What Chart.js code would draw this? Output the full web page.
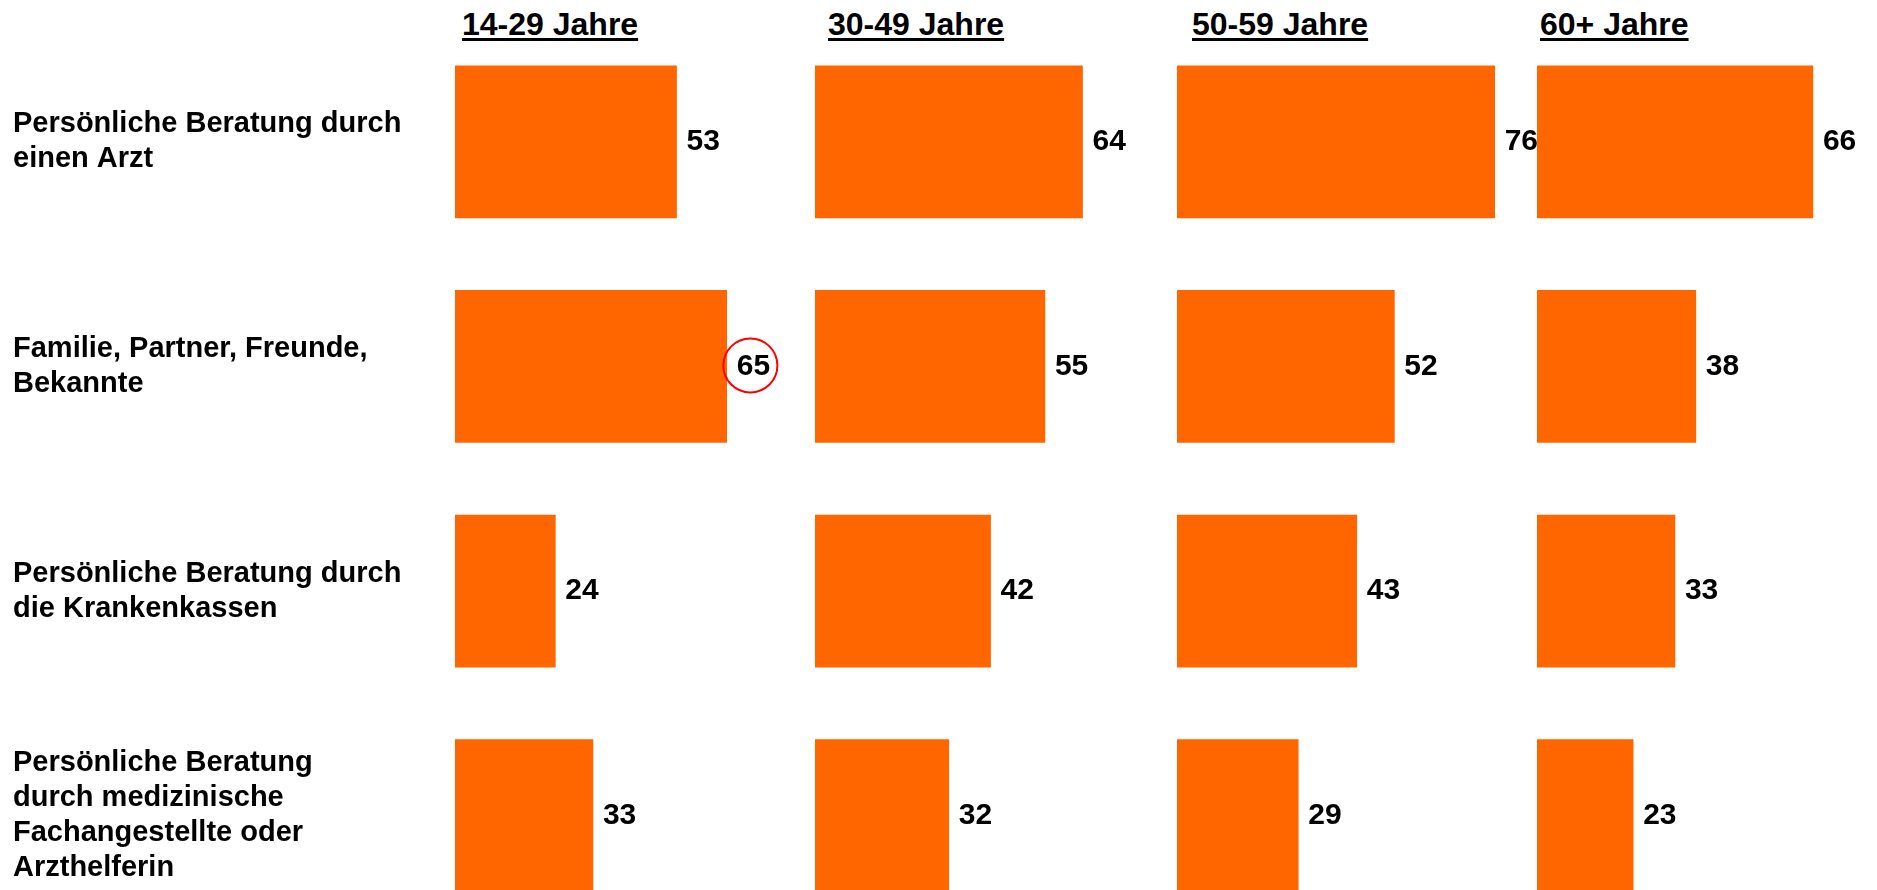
<!DOCTYPE html>
<html lang="de">
<head>
<meta charset="utf-8">
<title>Informationsquellen nach Alter</title>
<script src="https://cdn.jsdelivr.net/npm/chart.js@4.4.1/dist/chart.umd.min.js"></script>
<style>
  html, body { margin: 0; padding: 0; background: #fff; overflow: hidden; }
  body { width: 1877px; height: 890px; position: relative; }
  .panel { position: absolute; top: 0; }
  .head {
    position: absolute; top: 8px; margin: 0;
    font: bold 32px "Liberation Sans", Arial, sans-serif; line-height: 32px;
    color: #000; text-decoration: underline; text-decoration-thickness: 3px;
    text-underline-offset: 3px; white-space: nowrap;
  }
</style>
</head>
<body>
<div class="head" id="h0" style="left:462px"></div>
<div class="head" id="h1" style="left:828px"></div>
<div class="head" id="h2" style="left:1192px"></div>
<div class="head" id="h3" style="left:1540px"></div>

<div class="panel" style="left:0px"><canvas id="c0" width="933" height="928"></canvas></div>
<div class="panel" style="left:815px"><canvas id="c1" width="478" height="928"></canvas></div>
<div class="panel" style="left:1177px"><canvas id="c2" width="478" height="928"></canvas></div>
<div class="panel" style="left:1537px"><canvas id="c3" width="478" height="928"></canvas></div>

<script>
// Werte in Prozent, je Altersgruppe
const groups = ['14-29 Jahre', '30-49 Jahre', '50-59 Jahre', '60+ Jahre'];

const categories = [
  ['Persönliche Beratung durch', 'einen Arzt'],
  ['Familie, Partner, Freunde,', 'Bekannte'],
  ['Persönliche Beratung durch', 'die Krankenkassen'],
  ['Persönliche Beratung', 'durch medizinische', 'Fachangestellte oder', 'Arzthelferin']
];

const age14to29 = [53, 65, 24, 33];
const age30to49 = [64, 55, 42, 32];
const age50to59 = [76, 52, 43, 29];
const age60plus = [66, 38, 33, 23];

// hervorgehobener Wert (Gruppe, Zeile)
const circledGroup = 0;
const circledRow = 1;

const seriesList = [age14to29, age30to49, age50to59, age60plus];

Chart.defaults.font.family = '"Liberation Sans", Arial, sans-serif';
Chart.defaults.color = '#000';

const ORANGE = '#ff6600';

const valueLabels = {
  id: 'valueLabels',
  afterDatasetsDraw(chart, args, opts) {
    const ctx = chart.ctx;
    const meta = chart.getDatasetMeta(0);
    const values = chart.data.datasets[0].data;
    ctx.save();
    ctx.font = 'bold 30px "Liberation Sans", Arial, sans-serif';
    ctx.fillStyle = '#000';
    ctx.textBaseline = 'middle';
    ctx.textAlign = 'left';
    meta.data.forEach((bar, i) => {
      const txt = String(values[i]);
      const x = bar.x + 10;
      ctx.fillText(txt, x, bar.y);
      if (opts.circle === i) {
        const w = ctx.measureText(txt).width;
        ctx.beginPath();
        ctx.strokeStyle = '#ff0000';
        ctx.lineWidth = 2;
        ctx.arc(x + w / 2 - 3, bar.y - 1, 27, 0, Math.PI * 2);
        ctx.stroke();
      }
    });
    ctx.restore();
  }
};

function makePanel(idx) {
  const first = idx === 0;
  document.getElementById('h' + idx).textContent = groups[idx];

  return new Chart(document.getElementById('c' + idx), {
    type: 'bar',
    data: {
      labels: categories,
      datasets: [{
        label: groups[idx],
        data: seriesList[idx],
        backgroundColor: ORANGE,
        borderWidth: 0,
        barThickness: 152
      }]
    },
    options: {
      indexAxis: 'y',
      responsive: false,
      animation: false,
      layout: {
        padding: { top: 29.5, bottom: 0, left: first ? 13 : 0, right: 60 }
      },
      scales: {
        x: {
          display: false,
          min: 0,
          max: 100
        },
        y: {
          display: first,
          grid: { display: false },
          border: { display: false },
          ticks: {
            autoSkip: false,
            crossAlign: 'far',
            padding: 0,
            font: { size: 29, weight: 'bold', lineHeight: 1.21 },
            color: '#000'
          },
          afterFit: (scale) => {
            if (!first) return;
            // alle Panels sollen dieselbe Zeilenhöhe haben
            scale.width = 442;
            scale.paddingTop = 0;
            scale.paddingBottom = 0;
          }
        }
      },
      plugins: {
        legend: { display: false },
        tooltip: { enabled: false },
        valueLabels: { circle: idx === circledGroup ? circledRow : -1 }
      }
    },
    plugins: [valueLabels]
  });
}

groups.forEach((g, i) => makePanel(i));
</script>
</body>
</html>
